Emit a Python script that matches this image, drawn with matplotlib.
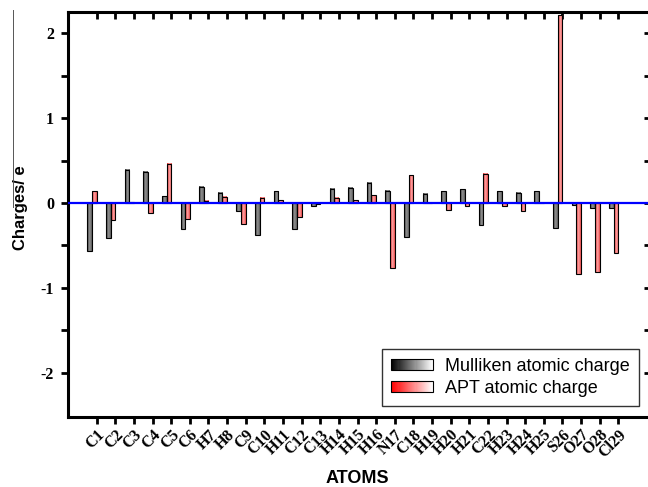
import numpy as np
import matplotlib
matplotlib.use("Agg")
import matplotlib.pyplot as plt
from matplotlib.colors import LinearSegmentedColormap
from matplotlib.legend_handler import HandlerBase
from matplotlib.patches import Rectangle
from matplotlib.lines import Line2D

atoms = ["C1", "C2", "C3", "C4", "C5", "C6", "H7", "H8", "C9", "C10",
         "H11", "C12", "C13", "H14", "H15", "H16", "N17", "C18", "H19", "H20",
         "H21", "C22", "H23", "H24", "H25", "S26", "O27", "O28", "Cl29"]
mulliken = [-0.57, -0.41, 0.39, 0.37, 0.08, -0.30, 0.19, 0.12, -0.09, -0.38,
            0.14, -0.31, -0.04, 0.165, 0.18, 0.24, 0.145, -0.40, 0.11, 0.14,
            0.16, -0.255, 0.14, 0.12, 0.14, -0.29, -0.02, -0.06, -0.06]
apt = [0.14, -0.20, 0.01, -0.12, 0.46, -0.19, 0.025, 0.075, -0.25, 0.06,
       0.035, -0.165, -0.01, 0.06, 0.03, 0.09, -0.76, 0.325, 0.005, -0.08,
       -0.04, 0.345, -0.03, -0.09, 0.005, 2.21, -0.83, -0.81, -0.59]

cm_gray = LinearSegmentedColormap.from_list("g", ["#2a2a2a", "#9a9a9a", "#5a5a5a"])
cm_red = LinearSegmentedColormap.from_list("r", ["#e02020", "#ffb0b0", "#f04848"])
leg_gray = LinearSegmentedColormap.from_list("lg", ["#000000", "#ffffff"])
leg_red = LinearSegmentedColormap.from_list("lr", ["#ff0000", "#ffffff"])


class GradHandler(HandlerBase):
    def __init__(self, cmap):
        super().__init__()
        self.cmap = cmap

    def create_artists(self, legend, orig_handle, xdescent, ydescent,
                       width, height, fontsize, trans):
        arts = []
        n = 40
        for i in range(n):
            arts.append(Rectangle((-xdescent + width * i / n, -ydescent),
                                  width / n + 0.3, height,
                                  facecolor=self.cmap(i / (n - 1)),
                                  edgecolor="none", transform=trans))
        arts.append(Rectangle((-xdescent, -ydescent), width, height,
                              facecolor="none", edgecolor="black",
                              linewidth=0.8, transform=trans))
        return arts


fig = plt.figure(figsize=(6.48, 4.87), dpi=100)
ax = fig.add_axes([68 / 648, 1 - 417 / 487, 582 / 648, 405 / 487])

x = np.arange(len(atoms))
w = 0.25
grad = np.linspace(0, 1, 32).reshape(1, -1)
for xi, m, a in zip(x, mulliken, apt):
    for x0, v, cm in ((xi - 2 * w, m, cm_gray), (xi - w, a, cm_red)):
        ax.imshow(grad, cmap=cm, extent=(x0, x0 + w, 0, v), aspect="auto",
                  interpolation="bicubic", zorder=2)
ax.bar(x - 1.5 * w, mulliken, w, facecolor="none", edgecolor="black",
       linewidth=0.8, zorder=3)
ax.bar(x - 0.5 * w, apt, w, facecolor="none", edgecolor="black",
       linewidth=0.8, zorder=3)

ax.axhline(0, color="#0000ff", linewidth=1.6, zorder=4)

ax.set_xlim(-1.54, 29.7)
ax.set_ylim(-2.52, 2.25)

for s in ax.spines.values():
    s.set_linewidth(2.2)

ax.set_xticks(x)
ax.set_xticklabels(atoms, rotation=45, ha="right", rotation_mode="anchor",
                   family="Liberation Serif", fontweight="bold", fontsize=11.5)
ax.set_yticks([-2, -1, 0, 1, 2])
ax.set_yticks([-1.5, -0.5, 0.5, 1.5], minor=True)
ax.set_yticklabels(["-2", "-1", "0", "1", "2"], family="Liberation Serif",
                   fontweight="bold", fontsize=11.5)
ax.tick_params(axis="x", direction="out", length=5, width=2, pad=2)
ax.tick_params(axis="y", which="major", direction="out", length=5, width=2, pad=5)
ax.tick_params(axis="y", which="minor", direction="out", length=5, width=2)

top = ax.secondary_xaxis("top")
top.set_xticks(x)
top.set_xticklabels([])
top.tick_params(direction="in", length=5, width=2)
right = ax.secondary_yaxis("right")
right.set_yticks([-2, -1.5, -1, -0.5, 0, 0.5, 1, 1.5, 2])
right.set_yticklabels([])
right.tick_params(direction="in", length=4, width=2)

ax.set_xlabel("ATOMS", family="Liberation Sans", fontweight="bold", fontsize=13,
              va="center")
ax.xaxis.set_label_coords(0.497, -0.151)
ax.set_ylabel("Charges/ e", family="Liberation Sans", fontweight="bold", fontsize=12,
              va="center")
ax.yaxis.set_label_coords(-0.081, 0.516)

h1 = Rectangle((0, 0), 1, 1)
h2 = Rectangle((0, 0), 1, 1)
leg = fig.legend([h1, h2], ["Mulliken atomic charge", "APT atomic charge"],
                 handler_map={h1: GradHandler(leg_gray), h2: GradHandler(leg_red)},
                 loc="lower right", bbox_to_anchor=(639 / 648, 1 - 406 / 487),
                 prop={"family": "Liberation Sans", "size": 13},
                 frameon=True, fancybox=False, edgecolor="black",
                 handlelength=2.35, handleheight=0.55, handletextpad=0.65,
                 labelspacing=0.28, borderpad=0.5, borderaxespad=0)
leg.get_frame().set_linewidth(1.0)

# stray rule seen left of the y label
fig.add_artist(Line2D([13 / 648, 13 / 648], [1 - 10 / 487, 1 - 207 / 487],
                      color="#555555", linewidth=0.7))

fig.savefig("out.png", dpi=100)
